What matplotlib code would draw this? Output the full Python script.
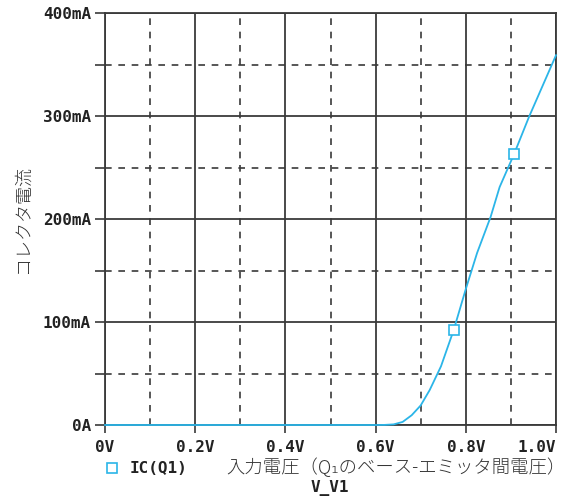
import numpy as np
import matplotlib.pyplot as plt
from matplotlib.lines import Line2D

# IC(Q1) vs V_V1
vbe = [0.0, 0.60, 0.62, 0.64, 0.66, 0.68, 0.70, 0.72, 0.745, 0.773, 0.80,
       0.825, 0.855, 0.875, 0.907, 0.94, 1.0]
ic_ma = [0, 0, 0.1, 0.6, 3, 9.5, 19, 34, 57, 92, 132, 167, 202, 231, 263, 299, 359]
marker_v = [0.773, 0.907]
marker_ma = [92, 263]

xticks = [0.0, 0.2, 0.4, 0.6, 0.8, 1.0]
xticklabels = ['0V', '0.2V', '0.4V', '0.6V', '0.8V', '1.0V']
yticks = [0, 100, 200, 300, 400]
yticklabels = ['0A', '100mA', '200mA', '300mA', '400mA']

blue = '#2bb5e8'
grid_c = '#3a3a3a'
mono = dict(family='DejaVu Sans Mono', weight='bold', size=11.5, color='#222222')
cjk = ['Noto Sans CJK JP', 'DejaVu Sans']

fig = plt.figure(figsize=(5.69, 4.98), dpi=100)
ax = fig.add_axes([105 / 569, 73 / 498, 451 / 569, 412 / 498])

ax.set_xlim(0, 1.0)
ax.set_ylim(0, 400)

ax.set_xticks(xticks)
ax.set_xticks(np.arange(0.1, 1.0, 0.2), minor=True)
ax.set_yticks(yticks)
ax.set_yticks([50, 150, 250, 350], minor=True)

ax.set_xticklabels(xticklabels, fontdict=mono)
ax.set_yticklabels(yticklabels, fontdict=mono)
ax.get_xticklabels()[-1].set_horizontalalignment('right')

ax.tick_params(axis='both', which='both', direction='out', color=grid_c, width=1.2)
ax.tick_params(axis='x', which='major', length=6, pad=5)
ax.tick_params(axis='x', which='minor', length=0)
ax.tick_params(axis='y', which='both', length=7, pad=3)

ax.grid(which='major', color=grid_c, linewidth=1.3, linestyle='-')
ax.grid(which='minor', color=grid_c, linewidth=1.2, linestyle=(0, (4, 4)))
ax.set_axisbelow(True)
for s in ax.spines.values():
    s.set_color(grid_c)
    s.set_linewidth(1.3)

ax.plot(vbe, ic_ma, color=blue, linewidth=1.3, zorder=5, clip_on=False)
ax.plot(marker_v, marker_ma, linestyle='none', marker='s', markersize=7,
        markerfacecolor='white', markeredgecolor=blue, markeredgewidth=1.2, zorder=6)

ax.set_ylabel('コレクタ電流', family=cjk, fontweight='light', fontsize=13,
              color='#333333', labelpad=8)

# legend row and x-axis titles
fig.add_artist(Line2D([112 / 569], [1 - 468 / 498], transform=fig.transFigure,
                      marker='s', markersize=7, markerfacecolor='white',
                      markeredgecolor=blue, markeredgewidth=1.2, linestyle='none'))
fig.text(130 / 569, 1 - 468 / 498, 'IC(Q1)', va='center', ha='left', **mono)
fig.text(226 / 569, 1 - 467 / 498, '入力電圧（Q₁のベース-エミッタ間電圧）',
         family=cjk, fontweight='light', fontsize=13.2, color='#333333',
         va='center', ha='left')
fig.text(330 / 569, 1 - 488 / 498, 'V_V1', va='center', ha='center', **mono)

fig.savefig('out.png', dpi=100)
